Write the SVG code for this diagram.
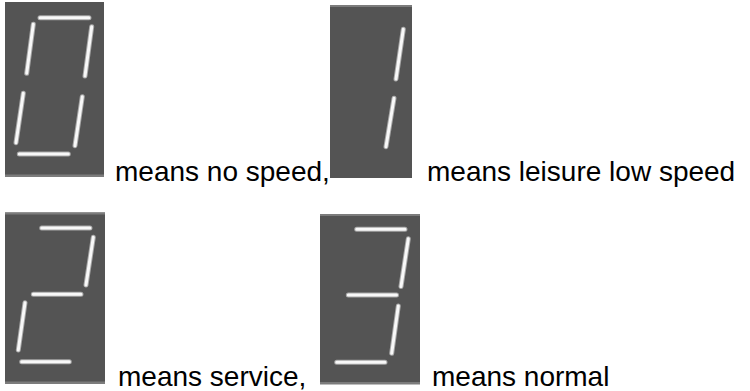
<svg xmlns="http://www.w3.org/2000/svg" width="750" height="391" viewBox="0 0 750 391">
<style>
.box{fill:#545454}
.edge{fill:#7c7c7c}
.glow{stroke:#a8a8a8;stroke-width:5;stroke-linecap:round;fill:none}
.seg{stroke:#f8f8f8;stroke-width:3;stroke-linecap:round;fill:none}
.lbl{font-family:"Liberation Sans",Arial,sans-serif;font-size:28px;fill:#000}
</style>
<rect width="750" height="391" fill="#fff"/>
<g id="digit0">
<rect class="box" x="5" y="2" width="99" height="175"/>
<rect class="edge" x="5" y="174.5" width="99" height="2.5"/>
<g class="glow"><path d="M40 17.7H89M33.3 24.3L26.7 73.3M91.7 26.7L85 76M23.3 93.3L16 142.7M82.3 96.7L75 145.7M19.3 154H68.3"/></g>
<g class="seg"><path d="M40 17.7H89M33.3 24.3L26.7 73.3M91.7 26.7L85 76M23.3 93.3L16 142.7M82.3 96.7L75 145.7M19.3 154H68.3"/></g>
</g>
<g id="label0"><text class="lbl" x="115" y="181">means no speed,</text></g>
<g id="digit1">
<rect class="box" x="330" y="5" width="82" height="173"/>
<rect class="edge" x="330" y="5" width="82" height="2"/>
<g class="glow"><path d="M403.3 29.3L396 79M394 98.3L386 146.7"/></g>
<g class="seg"><path d="M403.3 29.3L396 79M394 98.3L386 146.7"/></g>
</g>
<g id="label1"><text class="lbl" x="427" y="181">means leisure low speed</text></g>
<g id="digit2">
<rect class="box" x="5" y="212.5" width="100" height="171"/>
<rect class="edge" x="5" y="212.5" width="100" height="2"/>
<rect class="edge" x="5" y="381.5" width="100" height="2.5"/>
<g class="glow"><path d="M41.7 228H90M93.3 237.3L86 285M33.3 294.3H81M25 302.7L18.3 350M21.7 361.7H69.3"/></g>
<g class="seg"><path d="M41.7 228H90M93.3 237.3L86 285M33.3 294.3H81M25 302.7L18.3 350M21.7 361.7H69.3"/></g>
</g>
<g id="label2"><text class="lbl" x="118" y="386">means service,</text></g>
<g id="digit3">
<rect class="box" x="320" y="214" width="100" height="170"/>
<rect class="edge" x="320" y="214" width="100" height="2"/>
<rect class="edge" x="320" y="382" width="100" height="2.5"/>
<g class="glow"><path d="M356.7 229.3H405M408.3 238.8L401 286.5M348.3 295H396.5M398.3 306L391.7 353.3M336.7 362.3H385"/></g>
<g class="seg"><path d="M356.7 229.3H405M408.3 238.8L401 286.5M348.3 295H396.5M398.3 306L391.7 353.3M336.7 362.3H385"/></g>
</g>
<g id="label3"><text class="lbl" x="432" y="386">means normal</text></g>
</svg>
